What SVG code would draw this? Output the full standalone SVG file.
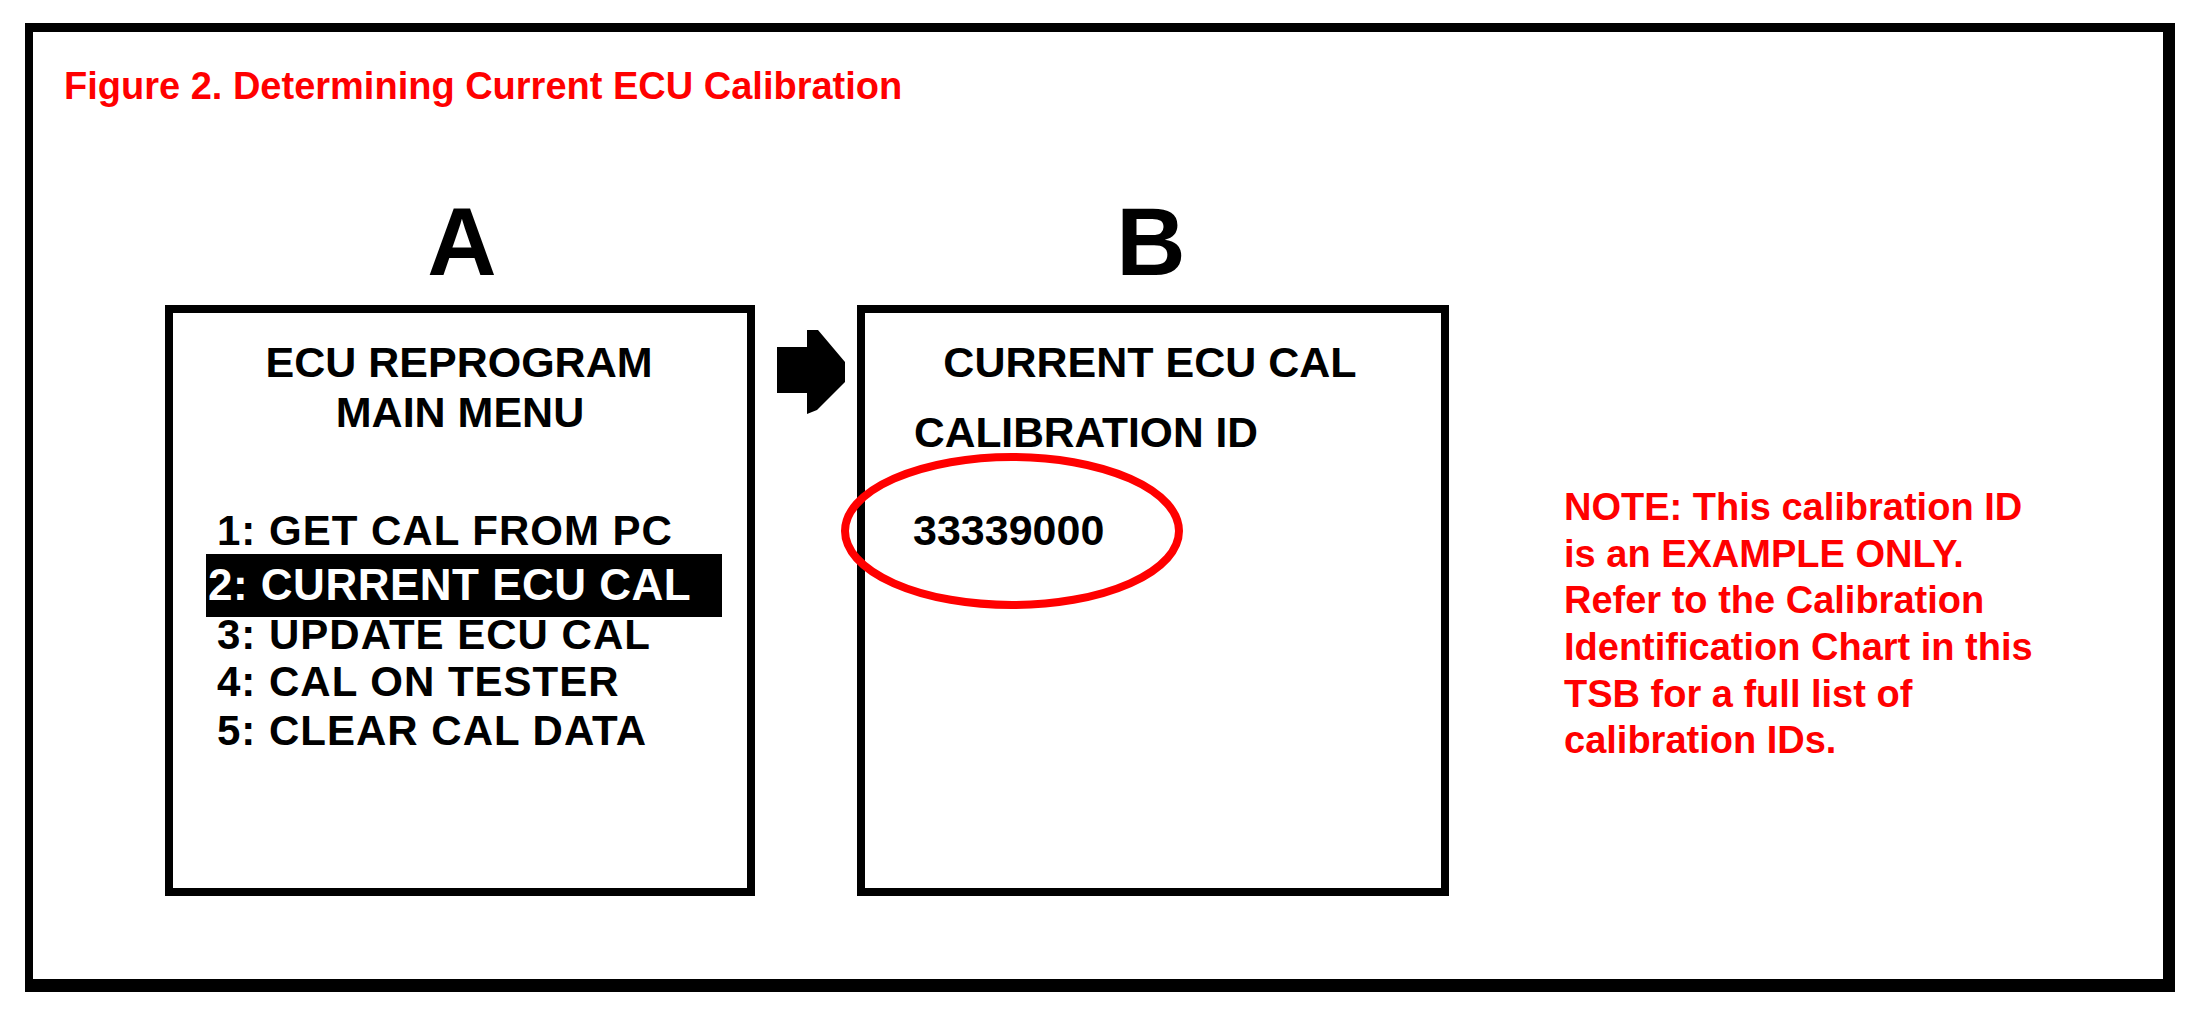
<svg xmlns="http://www.w3.org/2000/svg" width="2200" height="1012" viewBox="0 0 2200 1012">
  <style>
    .t { font-family: "Liberation Sans", Arial, Helvetica, sans-serif; font-weight: bold; }
    .blk { fill: #000000; }
    .red { fill: #ff0000; }
    .screen { fill: #ffffff; stroke: #000000; stroke-width: 8; }
    .menu { font-size: 42px; letter-spacing: 1px; }
    .note { font-size: 38px; }
    .big { font-size: 96px; }
  </style>
  <rect x="0" y="0" width="2200" height="1012" fill="#ffffff"/>
  <path id="frame" d="M25,23 H2175 V992 H25 Z M33,32 V979 H2163 V32 Z" fill="#000000" fill-rule="evenodd"/>
  <text id="title" class="t red" x="64" y="99" font-size="38">Figure 2. Determining Current ECU Calibration</text>

  <g id="screenA">
    <text class="t blk big" x="462" y="275" text-anchor="middle">A</text>
    <rect class="screen" x="169" y="309" width="582" height="583"/>
    <text class="t blk" x="459" y="377" font-size="43" text-anchor="middle">ECU REPROGRAM</text>
    <text class="t blk" x="460" y="427" font-size="43" text-anchor="middle">MAIN MENU</text>
    <text class="t blk menu" x="217" y="545">1: GET CAL FROM PC</text>
    <rect x="206" y="554" width="516" height="63" fill="#000000"/>
    <text class="t" x="208" y="600" font-size="44" letter-spacing="0.5" fill="#ffffff">2: CURRENT ECU CAL</text>
    <text class="t blk menu" x="217" y="649">3: UPDATE ECU CAL</text>
    <text class="t blk menu" x="217" y="696">4: CAL ON TESTER</text>
    <text class="t blk menu" x="217" y="745">5: CLEAR CAL DATA</text>
  </g>

  <g id="connectors">
    <polygon points="777,347 807,347 807,330 818,330 845,362 845,382 817,410 807,414 807,393 777,393" fill="#000000"/>
  </g>

  <g id="screenB">
    <text class="t blk big" x="1151" y="275" text-anchor="middle">B</text>
    <rect class="screen" x="861" y="309" width="584" height="583"/>
    <text class="t blk" x="1150" y="377" font-size="43" text-anchor="middle">CURRENT ECU CAL</text>
    <text class="t blk" x="914" y="447" font-size="42.5">CALIBRATION ID</text>
    <text class="t blk" x="913" y="545" font-size="43">33339000</text>
    <ellipse cx="1012" cy="531" rx="167" ry="74" fill="none" stroke="#ff0000" stroke-width="8"/>
  </g>

  <g id="note">
    <text class="t red note" x="1564" y="520">NOTE: This calibration ID</text>
    <text class="t red note" x="1564" y="567">is an EXAMPLE ONLY.</text>
    <text class="t red note" x="1564" y="613">Refer to the Calibration</text>
    <text class="t red note" x="1564" y="660">Identification Chart in this</text>
    <text class="t red note" x="1564" y="707">TSB for a full list of</text>
    <text class="t red note" x="1564" y="753">calibration IDs.</text>
  </g>
</svg>
